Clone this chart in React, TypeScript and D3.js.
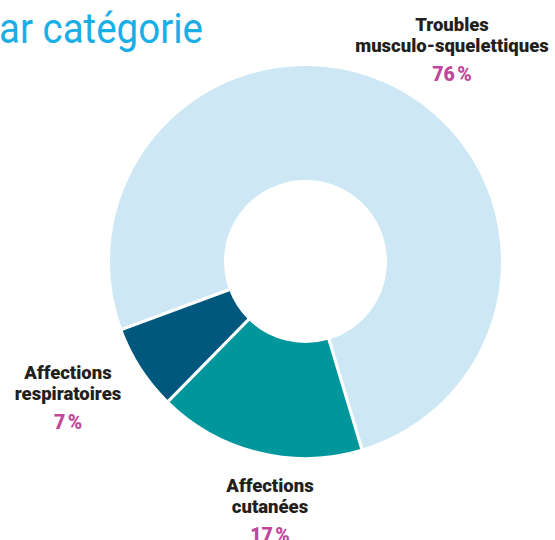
import React from 'react'
import * as d3 from 'd3';

const categories = ['Troubles musculo-squelettiques', 'Affections cutanées', 'Affections respiratoires'];
const values = [76, 17, 7];
const labelLines = [['Troubles', 'musculo-squelettiques'], ['Affections', 'cutanées'], ['Affections', 'respiratoires']];
const colors = ['#cde8f4', '#00979c', '#00587f'];

const App: React.FC = () => {
  const width = 555;
  const height = 540;
  const cx = 305.5;
  const cy = 261.5;
  const outer = 197;
  const inner = 80;

  const pie = d3.pie<number>()
    .sort(null)
    .startAngle(-110.3 * Math.PI / 180)
    .endAngle((360 - 110.3) * Math.PI / 180);
  const arcs = pie(values);

  const arc = d3.arc<d3.PieArcDatum<number>>()
    .innerRadius(inner)
    .outerRadius(outer);

  // label anchor points (centre x, first baseline y)
  const labelPos = [[452, 31], [270, 492], [68, 379]];
  const font = "Roboto, 'Liberation Sans', sans-serif";

  return (
    <svg width={width} height={height} style={{position: 'absolute', left: 0, top: 0}}>
      <text x={-1} y={43} fill='#1aaee6' fontSize={42} fontFamily={font}
        textLength={204} lengthAdjust='spacingAndGlyphs'>ar catégorie</text>
      <g transform={`translate(${cx}, ${cy})`}>
        {arcs.map((a, i) => (
          <path key={categories[i]} d={arc(a) || ''} fill={colors[i]} stroke='#fff' strokeWidth={3} strokeLinejoin='miter' />
        ))}
      </g>
      {labelLines.map((lines, i) => (
        <g key={categories[i]} fontFamily={font} fontWeight={900} textAnchor='middle'>
          {lines.map((l, j) => (
            <text key={l} x={labelPos[i][0]} y={labelPos[i][1] + j * 20.5} fontSize={18.5} fill='#231f20'>{l}</text>
          ))}
          <text x={labelPos[i][0]} y={labelPos[i][1] + 50} fontSize={19.5} fill='#c0479b'>{values[i]}{'\u202F'}%</text>
        </g>
      ))}
    </svg>
  )
}

export default App
